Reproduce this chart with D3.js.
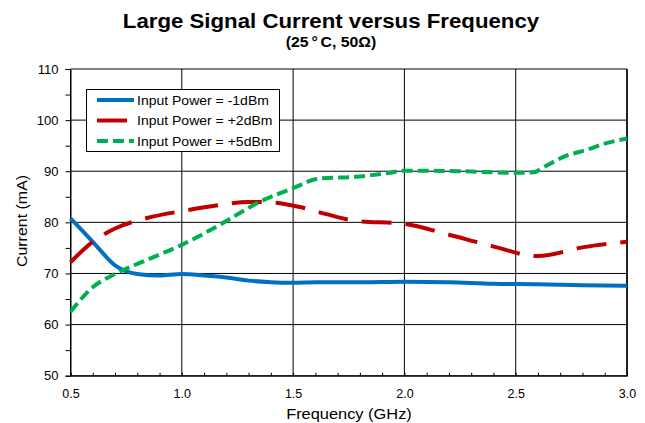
<!DOCTYPE html>
<html><head><meta charset="utf-8">
<script src="https://cdn.jsdelivr.net/npm/d3@7/dist/d3.min.js"></script>
<style>body{margin:0;background:#fff}svg{display:block;font-family:"Liberation Sans",Arial,sans-serif}</style>
</head><body><svg id="c" width="645" height="423"></svg>
<script>
const title = "Large Signal Current versus Frequency";
const subtitleParts = ["(25", "\u00B0", "C, 50\u03A9)"];
const xLabel = "Frequency (GHz)";
const yLabel = "Current (mA)";
const xTicks = [0.5, 1.0, 1.5, 2.0, 2.5, 3.0];
const yTicks = [50, 60, 70, 80, 90, 100, 110];
const seriesNames = ["Input Power = -1dBm", "Input Power = +2dBm", "Input Power = +5dBm"];
const seriesColors = ["#0070c0", "#c00000", "#00b050"];
const freqM1 = [0.5, 0.6, 0.7, 0.8, 0.9, 1.0, 1.1, 1.2, 1.3, 1.4, 1.5, 1.6, 1.8, 2.0, 2.2, 2.4, 2.6, 2.8, 3.0];
const curM1  = [80.8, 76.2, 71.6, 69.9, 69.6, 69.9, 69.6, 69.2, 68.6, 68.3, 68.2, 68.3, 68.3, 68.4, 68.3, 68.0, 67.9, 67.7, 67.6];
const freqP2 = [0.5, 0.6, 0.7, 0.84, 1.0, 1.17, 1.3, 1.4, 1.53, 1.65, 1.78, 2.0, 2.19, 2.39, 2.6, 2.8, 3.0];
const curP2  = [72.2, 76.2, 78.8, 80.8, 82.2, 83.4, 84.0, 83.9, 83.0, 81.6, 80.3, 79.7, 77.7, 75.4, 73.4, 75.1, 76.2];
const freqP5 = [0.5, 0.6, 0.7, 0.84, 1.0, 1.17, 1.35, 1.5, 1.62, 1.78, 1.92, 2.0, 2.25, 2.5, 2.58, 2.63, 2.72, 2.82, 2.9, 3.0];
const curP5  = [62.5, 67.3, 69.9, 72.6, 75.6, 79.5, 84.0, 86.7, 88.6, 88.9, 89.6, 90.1, 90.0, 89.7, 89.8, 90.9, 92.9, 94.2, 95.4, 96.4];

const svg = d3.select("#c");
const L = 70.5, R = 627, T = 69, B = 375.7;
const x = d3.scaleLinear().domain([0.5, 3.0]).range([L, R]);
const y = d3.scaleLinear().domain([50, 110]).range([B, T]);

function stretch(sel, k) {
  sel.each(function () {
    const w = this.getComputedTextLength();
    d3.select(this).attr("textLength", w * k).attr("lengthAdjust", "spacingAndGlyphs");
  });
  return sel;
}

// grid
svg.append("g").selectAll("line").data(yTicks).join("line")
  .attr("x1", L).attr("x2", R).attr("y1", d => y(d)).attr("y2", d => y(d))
  .attr("stroke", "#000").attr("stroke-width", 1);
svg.append("g").selectAll("line").data(xTicks).join("line")
  .attr("x1", d => x(d)).attr("x2", d => x(d)).attr("y1", T).attr("y2", B)
  .attr("stroke", "#000").attr("stroke-width", 1);
svg.append("line").attr("x1", R).attr("x2", R).attr("y1", T).attr("y2", B)
  .attr("stroke", "#222").attr("stroke-width", 2);

// axes
const yAxis = d3.axisLeft(y).tickValues(d3.range(50, 110.1, 5)).tickSize(5)
  .tickFormat(d => yTicks.includes(d) ? d3.format("d")(d) : "");
const gy = svg.append("g").attr("transform", `translate(${L},0)`).call(yAxis);
gy.select(".domain").attr("stroke", "#000");
gy.selectAll("text").attr("font-size", 13).attr("fill", "#000").attr("dx", -4);
const xAxis = d3.axisBottom(x).tickValues(d3.range(5, 30.1, 1).map(d => d / 10)).tickSize(-3)
  .tickFormat(d => xTicks.some(t => Math.abs(t - d) < 1e-6) ? d3.format(".1f")(d) : "");
const gx = svg.append("g").attr("transform", `translate(0,${B})`).call(xAxis);
gx.select(".domain").attr("stroke", "#000");
gx.selectAll("text").attr("font-size", 12.5).attr("fill", "#000").attr("y", 22.6).attr("dy", 0);

// series
const line = d3.line().x(d => x(d[0])).y(d => y(d[1])).curve(d3.curveMonotoneX);
const series = [
  {f: freqM1, v: curM1, dash: null},
  {f: freqP2, v: curP2, dash: "30,14"},
  {f: freqP5, v: curP5, dash: "11,5"}
];
series.forEach((s, i) => {
  svg.append("path").datum(d3.zip(s.f, s.v)).attr("d", line)
    .attr("fill", "none").attr("stroke", seriesColors[i]).attr("stroke-width", 4)
    .attr("stroke-dasharray", s.dash);
});

// legend
const lg = svg.append("g");
lg.append("rect").attr("x", 86.5).attr("y", 89.5).attr("width", 193).attr("height", 62)
  .attr("fill", "#fff").attr("stroke", "#000").attr("stroke-width", 1);
seriesNames.forEach((n, i) => {
  const yy = 100 + i * 20.5;
  lg.append("line").attr("x1", 97).attr("x2", 134).attr("y1", yy).attr("y2", yy)
    .attr("stroke", seriesColors[i]).attr("stroke-width", 4)
    .attr("stroke-dasharray", series[i].dash);
  stretch(lg.append("text").attr("x", 137).attr("y", yy + 4.5).attr("font-size", 12.5).text(n), 1.12);
});

// titles
stretch(svg.append("text").attr("x", 331).attr("y", 28).attr("text-anchor", "middle")
  .attr("font-size", 19.5).attr("font-weight", "bold").text(title), 1.14);
const st = svg.append("text").attr("x", 331).attr("y", 47).attr("text-anchor", "middle")
  .attr("font-size", 14).attr("font-weight", "bold");
st.selectAll("tspan").data(subtitleParts).join("tspan")
  .attr("dx", (d, i) => i === 0 ? 0 : 2.5).text(d => d);
st.attr("transform", "translate(331,0) scale(1.13,1) translate(-331,0)");
stretch(svg.append("text").attr("x", 349).attr("y", 419).attr("text-anchor", "middle")
  .attr("font-size", 14.5).text(xLabel), 1.13);
stretch(svg.append("text").attr("transform", "translate(27,221) rotate(-90)").attr("text-anchor", "middle")
  .attr("font-size", 14.5).text(yLabel), 1.1);
</script></body></html>
